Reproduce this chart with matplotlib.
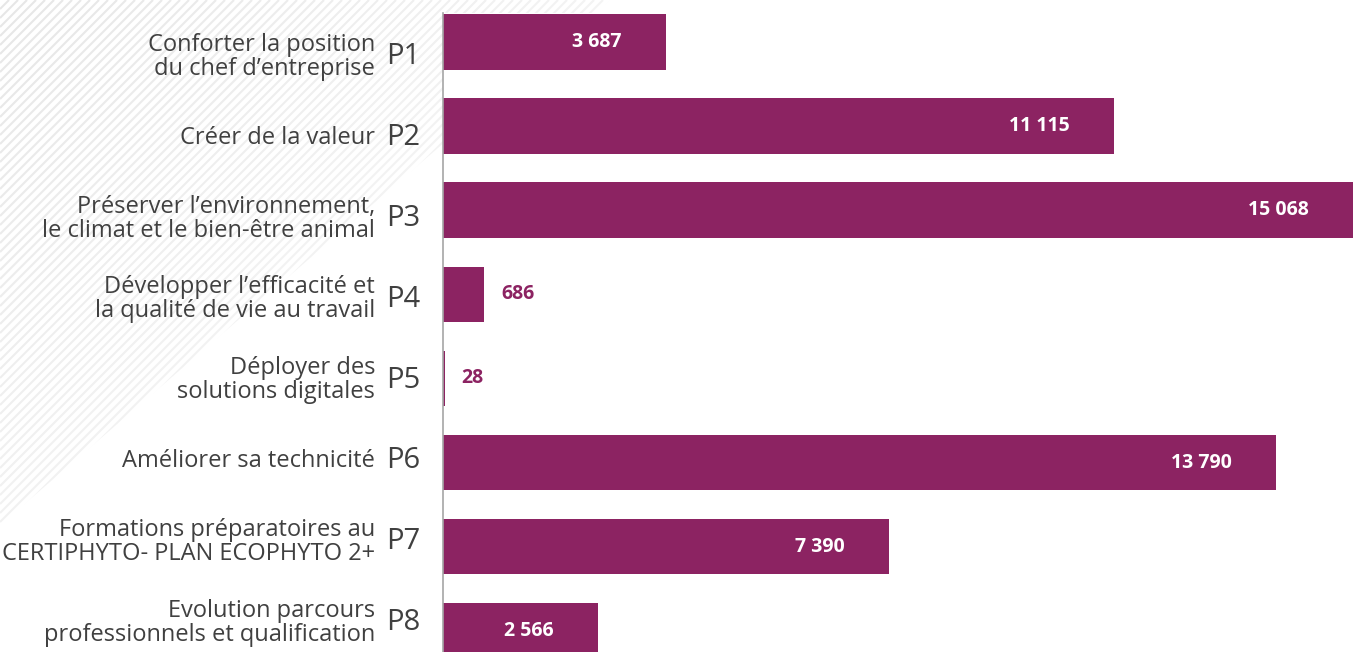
import numpy as np
import matplotlib.pyplot as plt
from matplotlib.patches import Polygon

plt.rcParams['font.family'] = ['Open Sans', 'DejaVu Sans']

codes = ['P1', 'P2', 'P3', 'P4', 'P5', 'P6', 'P7', 'P8']
descriptions = [
    'Conforter la position\ndu chef d\u2019entreprise',
    'Cr\u00e9er de la valeur',
    'Pr\u00e9server l\u2019environnement,\nle climat et le bien-\u00eatre animal',
    'D\u00e9velopper l\u2019efficacit\u00e9 et\nla qualit\u00e9 de vie au travail',
    'D\u00e9ployer des\nsolutions digitales',
    'Am\u00e9liorer sa technicit\u00e9',
    'Formations pr\u00e9paratoires au\nCERTIPHYTO- PLAN ECOPHYTO 2+',
    'Evolution parcours\nprofessionnels et qualification',
]
values = [3687, 11115, 15068, 686, 28, 13790, 7390, 2566]
value_labels = ['3 687', '11 115', '15 068', '686', '28', '13 790', '7 390', '2 566']

bar_color = '#8c2362'
text_color = '#404040'
W, H = 1355, 652

fig = plt.figure(figsize=(W / 100, H / 100), dpi=100)

# background: faint diagonal stripes in the top-left corner
bg = fig.add_axes([0, 0, 1, 1], zorder=-1)
bg.set_xlim(0, W)
bg.set_ylim(H, 0)
bg.axis('off')
tri = Polygon([(0, 0), (610, 0), (0, 525)], closed=True, facecolor='none', edgecolor='none')
bg.add_patch(tri)
for c in np.arange(0, 620, 9):
    fade = max(0.0, 1 - c / 640)
    ln, = bg.plot([c, 0], [0, c], color='#dcdcdc', lw=1.5, alpha=0.3 + 0.4 * fade,
                  solid_capstyle='butt')
    ln.set_clip_path(tri)

ax = fig.add_axes([443 / W, 0, 912 / W, 1 - 13 / H])
ax.set_facecolor('white')
y = list(range(len(codes)))
ax.barh(y, values, height=0.66, color=bar_color, zorder=2)
ax.set_ylim(7.253, -0.345)
ax.set_xlim(0, 15101)

for i, (v, lab) in enumerate(zip(values, value_labels)):
    if v > 2000:
        ax.annotate(lab, (v, i), xytext=(-32, 0), textcoords='offset points',
                    ha='right', va='center', color='white', fontsize=14, fontweight='bold')
    else:
        ax.annotate(lab, (v, i), xytext=(12, 0), textcoords='offset points',
                    ha='left', va='center', color=bar_color, fontsize=14, fontweight='bold')

# category labels sit on their own evenly spaced rows
for i, (code, desc) in enumerate(zip(codes, descriptions)):
    yy = 1 - (57 + 80.8 * i) / H
    fig.text(375 / W, yy, desc, ha='right', va='center', fontsize=17,
             color=text_color, linespacing=1.0)
    fig.text(386 / W, yy, code, ha='left', va='center', fontsize=21,
             color=text_color)

for s in ['top', 'right', 'bottom']:
    ax.spines[s].set_visible(False)
ax.spines['left'].set_color('#a6a6a6')
ax.spines['left'].set_linewidth(1.2)
ax.set_xticks([])
ax.set_yticks([])

fig.savefig('out.png', dpi=100)
